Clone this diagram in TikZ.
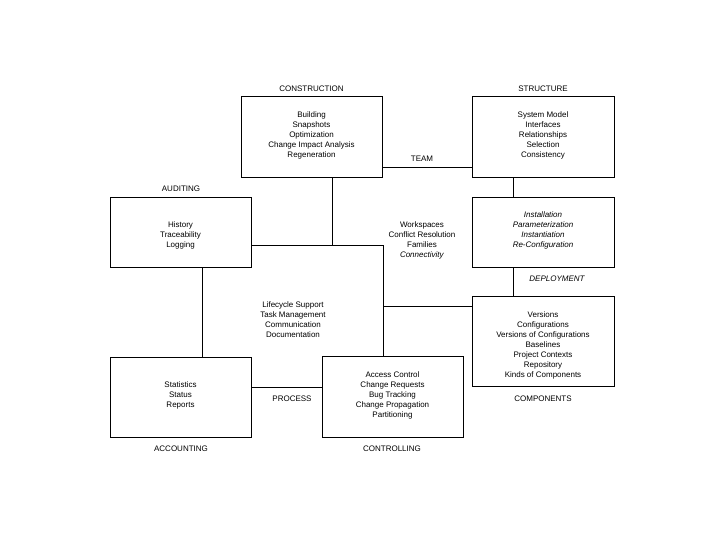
\documentclass[tikz,border=0pt]{standalone}
\usepackage{fontspec}
\setmainfont{Liberation Sans}
\begin{document}
\begin{tikzpicture}[x=1pt,y=-1pt,
  box/.style={draw, line width=0.8pt, inner sep=0pt},
  txt/.style={align=center, inner sep=0pt, yshift=-1pt, font=\fontsize{8}{10}\selectfont},
  conn/.style={line width=0.8pt}]
\useasboundingbox (0,0) rectangle (720,540);
% boxes
\node[box, minimum width=141pt, minimum height=81pt] (con) at (311.5,136.5) {};
\node[box, minimum width=142pt, minimum height=81pt] (str) at (543,136.5) {};
\node[box, minimum width=141pt, minimum height=70pt] (aud) at (180.5,232) {};
\node[box, minimum width=142pt, minimum height=70pt] (dep) at (543,232) {};
\node[box, minimum width=142pt, minimum height=90pt] (cmp) at (543,341) {};
\node[box, minimum width=141pt, minimum height=80pt] (acc) at (180.5,397) {};
\node[box, minimum width=141pt, minimum height=81pt] (ctl) at (392.5,396.5) {};
% box texts
\node[txt] (conT) at (311.5,134) {Building\\Snapshots\\Optimization\\Change Impact Analysis\\Regeneration};
\node[txt] (strT) at (543,134) {System Model\\Interfaces\\Relationships\\Selection\\Consistency};
\node[txt] (audT) at (180.5,234) {History\\Traceability\\Logging};
\node[txt, font=\fontsize{8}{10}\selectfont\itshape] (depT) at (543,229) {Installation\\Parameterization\\Instantiation\\Re-Configuration};
\node[txt] (cmpT) at (543,344) {Versions\\Configurations\\Versions of Configurations\\Baselines\\Project Contexts\\Repository\\Kinds of Components};
\node[txt] (accT) at (180.5,394) {Statistics\\Status\\Reports};
\node[txt] (ctlT) at (392.5,394) {Access Control\\Change Requests\\Bug Tracking\\Change Propagation\\Partitioning};
% free texts
\node[txt] (ws) at (422,239) {Workspaces\\Conflict Resolution\\Families\\\textit{Connectivity}};
\node[txt] (lc) at (293,319) {Lifecycle Support\\Task Management\\Communication\\Documentation};
% labels
\node[txt] (lCon) at (311.5,88) {CONSTRUCTION};
\node[txt] (lStr) at (543,88) {STRUCTURE};
\node[txt] (lTeam) at (422,158) {TEAM};
\node[txt] (lAud) at (181,188) {AUDITING};
\node[txt, font=\fontsize{8}{10}\selectfont\itshape] (lDep) at (557,278) {DEPLOYMENT};
\node[txt] (lCmp) at (543,398) {COMPONENTS};
\node[txt] (lProc) at (292,398) {PROCESS};
\node[txt] (lAcc) at (181,448) {ACCOUNTING};
\node[txt] (lCtl) at (392,448) {CONTROLLING};
% junctions
\coordinate (jT) at (332,245);
\coordinate (jA) at (383,245);
\coordinate (jB) at (383,306);
\coordinate (jTeam) at (0,167);
\coordinate (jProc) at (0,387);
\coordinate (xs) at (513,0);
\coordinate (xa) at (202,0);
% connectors
\draw[conn] (con.east |- jTeam) -- (str.west |- jTeam);
\draw[conn] (str.south -| xs) -- (dep.north -| xs);
\draw[conn] (dep.south -| xs) -- (cmp.north -| xs);
\draw[conn] (con.south -| jT) -- (jT);
\draw[conn] (aud.east |- jA) -- (jA) -- (ctl.north -| jA);
\draw[conn] (jB) -- (cmp.west |- jB);
\draw[conn] (aud.south -| xa) -- (acc.north -| xa);
\draw[conn] (acc.east |- jProc) -- (ctl.west |- jProc);
\end{tikzpicture}
\end{document}
